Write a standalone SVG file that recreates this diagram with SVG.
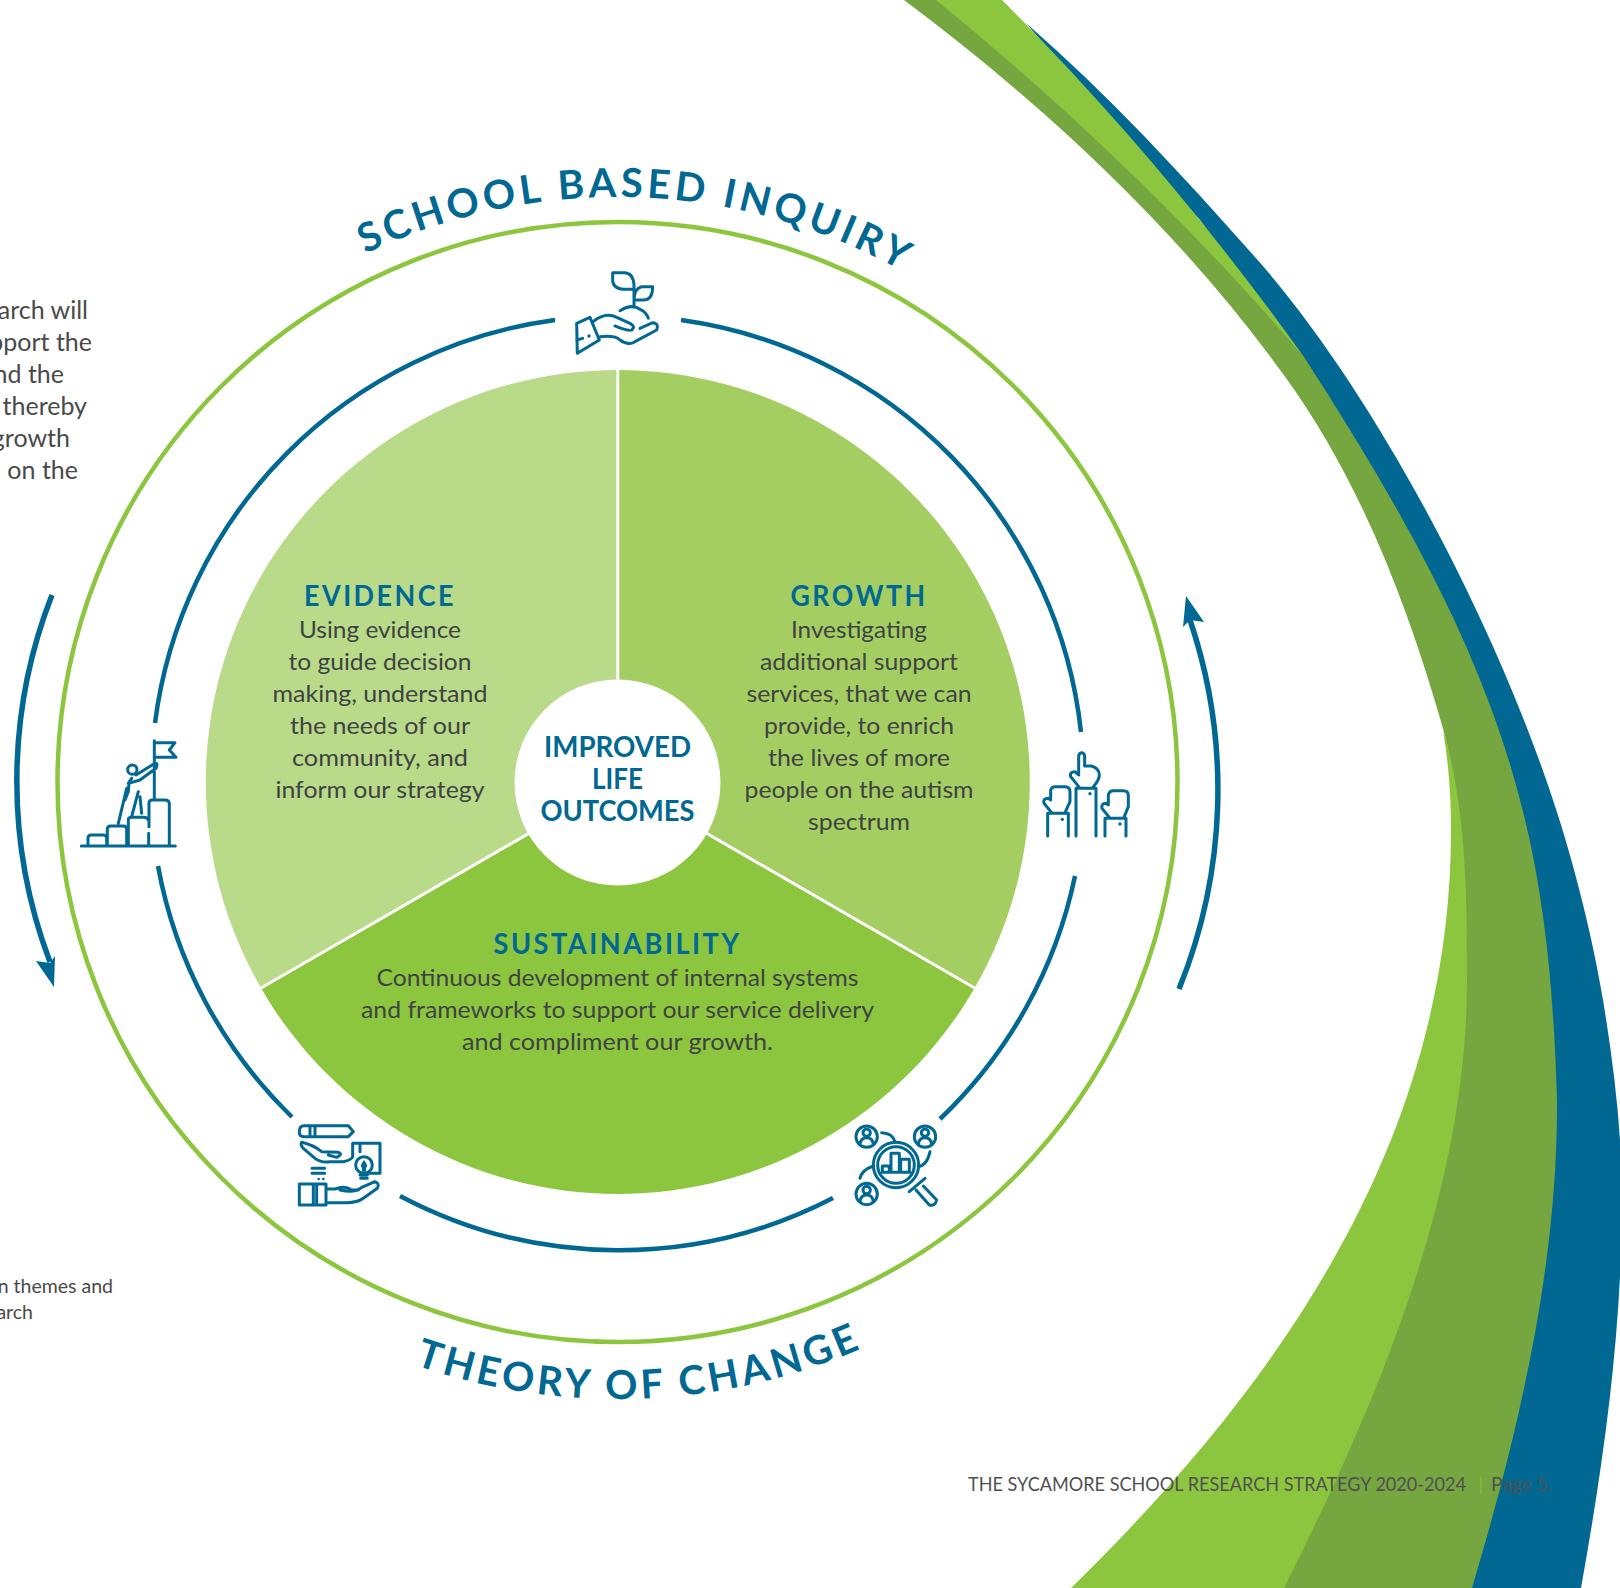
<svg xmlns="http://www.w3.org/2000/svg" width="1620" height="1588" viewBox="0 0 1620 1588">
<style>
text{font-family:"Lato","Liberation Sans",sans-serif}
.b{fill:#3f4344;font-size:24px;text-anchor:middle}
.h{fill:#006892;font-size:28px;font-weight:700;text-anchor:middle;letter-spacing:2.6px}
.c{fill:#006892;font-size:29px;font-weight:700;text-anchor:middle}
.arc{fill:none;stroke:#006892;stroke-width:4.5}
.arr{fill:none;stroke:#006892;stroke-width:5.5}
.i{fill:none;stroke:#006892;stroke-width:9;stroke-linecap:round;stroke-linejoin:round}
.d{fill:#006892}
.big{fill:#006892;font-size:40px;font-weight:700;text-anchor:middle}
.s{fill:#4a4a4a;font-size:25px;text-anchor:end}
.t{fill:#4a4a4a;font-size:19.5px;text-anchor:end}
.f{fill:#505052;font-size:19px}
</style>
<defs>
<path id="top" d="M32,782A585,585 0 0 1 1202,782"/>
<path id="bot" d="M0,782A617,617 0 0 0 1234,782"/>
</defs>
<g id="swoosh">
<path fill="#006892" d="M1026,23C1111,97 1187,180 1262,265C1372,392 1490,610 1553,800C1575,866 1593,940 1603,1000C1614,1066 1622,1133 1622,1200C1622,1330 1604,1460 1581,1588H1450L1500,1200L1500,800L1300,360L1200,220L1100,110Z"/>
<path fill="#8cc63f" d="M1443,730C1449,765 1451,800 1451,830C1451,1130 1292,1372 1071,1588H1360L1500,1300L1500,900Z"/>
<path fill="#75a640" d="M904,0H980C1090,100 1200,220 1304,357C1393,495 1479,641 1520,800C1546,897 1554,1000 1557,1100C1558,1265 1519,1430 1472,1588H1284C1379,1399 1467,1190 1467,980C1467,890 1466,812 1444,732C1409,608 1361,482 1286,378C1182,233 1047,107 904,0Z"/>
<path fill="#8cc63f" d="M936,0H1002C1111,109 1214,231 1304,357C1193,227 1068,108 936,0Z"/>
</g>
<g id="fragments">
<text class="s" x="88" y="319">arch will</text>
<text class="s" x="92" y="351">pport the</text>
<text class="s" x="64" y="383">nd the</text>
<text class="s" x="87" y="415">thereby</text>
<text class="s" x="70" y="447">growth</text>
<text class="s" x="78" y="479">on the</text>
<text class="t" x="113" y="1293">n themes and</text>
<text class="t" x="33" y="1319">arch</text>
</g>
<g id="outer-ring">
<circle cx="617.5" cy="782" r="560" fill="none" stroke="#8cc63f" stroke-width="4.5"/>
<text class="big" letter-spacing="4.1"><textPath href="#top" startOffset="939">SCHOOL BASED INQUIRY</textPath></text>
<text class="big" letter-spacing="3.8"><textPath href="#bot" startOffset="993">THEORY OF CHANGE</textPath></text>
</g>
<g id="connectors">
<path class="arc" d="M681,320A466.5,466.5 0 0 1 1081,732"/>
<path class="arc" d="M1075,876A467,467 0 0 1 940,1119"/>
<path class="arc" d="M833,1198A467,467 0 0 1 400,1196"/>
<path class="arc" d="M292,1117A467,467 0 0 1 158,866"/>
<path class="arc" d="M155,723A466,466 0 0 1 555,320"/>
<path class="arr" d="M1179,989A530,530 0 0 0 1190,620"/>
<polygon class="d" points="1186,596 1183,627 1190,620 1204,622"/>
<path class="arr" d="M52,595A510,510 0 0 0 50,962"/>
<polygon class="d" points="54,987 55,956 50,963 36,961"/>
</g>
<g id="evidence">
<path fill="#b9da88" d="M617.8,782V370A412,412 0 0 0 261,988Z"/>
<text class="h" x="380" y="606" textLength="152" lengthAdjust="spacingAndGlyphs">EVIDENCE</text>
<text class="b" x="380" y="638" textLength="162" lengthAdjust="spacingAndGlyphs">Using evidence</text>
<text class="b" x="380" y="670" textLength="183" lengthAdjust="spacingAndGlyphs">to guide decision</text>
<text class="b" x="380" y="702" textLength="215" lengthAdjust="spacingAndGlyphs">making, understand</text>
<text class="b" x="380" y="734" textLength="180" lengthAdjust="spacingAndGlyphs">the needs of our</text>
<text class="b" x="380" y="766" textLength="176" lengthAdjust="spacingAndGlyphs">community, and</text>
<text class="b" x="380" y="798" textLength="209" lengthAdjust="spacingAndGlyphs">inform our strategy</text>
</g>
<g id="growth">
<path fill="#a4ce62" d="M617.8,782V370A412,412 0 0 1 974.6,988Z"/>
<text class="h" x="859" y="606" textLength="137" lengthAdjust="spacingAndGlyphs">GROWTH</text>
<text class="b" x="859" y="638" textLength="136" lengthAdjust="spacingAndGlyphs">Investigating</text>
<text class="b" x="859" y="670" textLength="198" lengthAdjust="spacingAndGlyphs">additional support</text>
<text class="b" x="859" y="702" textLength="225" lengthAdjust="spacingAndGlyphs">services, that we can</text>
<text class="b" x="859" y="734" textLength="190" lengthAdjust="spacingAndGlyphs">provide, to enrich</text>
<text class="b" x="859" y="766" textLength="182" lengthAdjust="spacingAndGlyphs">the lives of more</text>
<text class="b" x="859" y="798" textLength="229" lengthAdjust="spacingAndGlyphs">people on the autism</text>
<text class="b" x="859" y="830" textLength="102" lengthAdjust="spacingAndGlyphs">spectrum</text>
</g>
<g id="sustainability">
<path fill="#8cc63f" d="M617.8,782L974.6,988A412,412 0 0 1 261,988Z"/>
<text class="h" x="617.5" y="954" textLength="248" lengthAdjust="spacingAndGlyphs">SUSTAINABILITY</text>
<text class="b" x="617.5" y="986" textLength="482" lengthAdjust="spacingAndGlyphs">Continuous development of internal systems</text>
<text class="b" x="617.5" y="1018" textLength="513" lengthAdjust="spacingAndGlyphs">and frameworks to support our service delivery</text>
<text class="b" x="617.5" y="1050" textLength="311" lengthAdjust="spacingAndGlyphs">and compliment our growth.</text>
</g>
<g id="dividers" stroke="#fff" stroke-width="3">
<path d="M617.8,782V370M617.8,782L974.6,988M617.8,782L261,988"/>
</g>
<g id="center">
<circle cx="617.5" cy="782.5" r="103" fill="#fff"/>
<text class="c" x="617.5" y="757" textLength="147" lengthAdjust="spacingAndGlyphs">IMPROVED</text>
<text class="c" x="617.5" y="789" textLength="51" lengthAdjust="spacingAndGlyphs">LIFE</text>
<text class="c" x="617.5" y="821" textLength="154" lengthAdjust="spacingAndGlyphs">OUTCOMES</text>
</g>
<g id="icon-plant" transform="translate(560,260) scale(.3333)">
<path class="i" d="M158,38H195Q220,40 222,75V88H190Q158,85 158,60ZM222,120H250Q278,120 278,80H245Q222,85 222,120M222,75V140M180,152Q215,130 240,148Q258,155 265,175M50,190L90,172L118,240L52,280ZM50,240L68,235M100,185Q130,160 160,168L210,190Q228,200 215,210Q205,215 165,198M240,205L278,188Q298,190 290,210L225,245Q205,258 180,240Q165,225 120,230"/>
<circle class="d" cx="87" cy="228" r="5"/>
</g>
<g id="icon-hands" transform="translate(1020,730) scale(.3333)">
<path class="i" d="M168,318V175H228V318M178,172L152,140Q148,125 165,125L176,135V78Q178,68 185,68Q192,68 194,78V108H215Q238,115 238,135Q238,150 220,170M83,318V250H145V318M95,248L72,220Q68,205 85,205L92,210V180Q95,170 105,170H135Q150,170 150,185V215L135,248M255,318V265H318V318M268,262L246,235Q243,220 258,220L265,225V195Q268,182 280,182H310Q325,182 325,197V230L312,262"/>
<circle class="d" cx="210" cy="191" r="5"/><circle class="d" cx="127" cy="268" r="5"/><circle class="d" cx="300" cy="282" r="5"/>
</g>
<g id="icon-analysis" transform="translate(840,1110) scale(.3333)">
<path class="i" d="M125,68Q160,70 165,96M60,205Q65,180 100,168M235,170Q262,165 270,125M127,185V168H148V185M153,185V130H178V185M182,185V148H208V185M127,187H210M208,245L255,205M228,240L268,285Q285,290 290,270L250,228"/>
<g class="i">
<circle cx="80" cy="80" r="32"/><circle cx="80" cy="68" r="11"/><path d="M60,103Q62,83 80,83Q98,83 100,103"/>
<circle cx="255" cy="80" r="32"/><circle cx="255" cy="68" r="11"/><path d="M235,103Q237,83 255,83Q273,83 275,103"/>
<circle cx="80" cy="252" r="32"/><circle cx="80" cy="240" r="11"/><path d="M60,275Q62,255 80,255Q98,255 100,275"/>
<circle cx="168" cy="165" r="68"/><circle cx="168" cy="165" r="55"/>
</g>
</g>
<g id="icon-ideas" transform="translate(280,1110) scale(.3333)">
<path class="i" d="M72,47H205L220,65L205,80H72Q58,80 58,65Q58,47 72,47ZM90,47V80M105,47V80M65,97Q60,105 70,115L105,145Q125,160 150,155H190Q215,150 218,140M65,97Q100,105 125,125L175,127Q190,132 170,142L145,135M218,100H300V190H268M218,100V140M240,100V125M240,195H262M242,205H262M96,175H134M96,190H134M58,222H138V285H58ZM100,222V285M110,222V285M140,237H165Q195,225 215,240H235M180,240Q225,250 245,232L285,215Q300,220 292,235L250,265Q230,280 190,278H140"/>
<circle class="i" cx="252" cy="165" r="25"/>
<path class="d" d="M252,150Q266,165 258,175V185H246V175Q238,165 252,150Z"/>
<circle class="d" cx="116" cy="207" r="4"/><circle class="d" cx="130" cy="207" r="4"/>
</g>
<g id="icon-climb" transform="translate(60,720) scale(.3333)">
<path class="i" d="M64,378H346M84,378V355Q84,345 94,345H130Q140,345 140,355V378M142,378V328Q142,318 152,318H190Q200,318 200,328V378M205,378V300Q205,292 215,292H252Q262,292 265,300M267,320V250Q267,240 277,240H315Q328,240 328,252V378M266,340V378M283,62V240M283,68H345L328,90L348,112H283M228,165L285,130Q295,128 288,145L240,180M215,175L205,190L240,180M207,190L205,215M200,205L175,310M205,215L195,240M235,215L215,290M240,230L245,280"/>
<circle class="i" cx="217" cy="149" r="14"/>
</g>
<g id="footer">
<text class="f" x="968" y="1491" textLength="498" lengthAdjust="spacingAndGlyphs">THE SYCAMORE SCHOOL RESEARCH STRATEGY 2020-2024</text>
<path d="M1481,1477V1494" stroke="#8cc63f" stroke-width="1"/>
<text class="f" x="1491" y="1491" textLength="61" lengthAdjust="spacingAndGlyphs">Page 5.</text>
</g>
</svg>
